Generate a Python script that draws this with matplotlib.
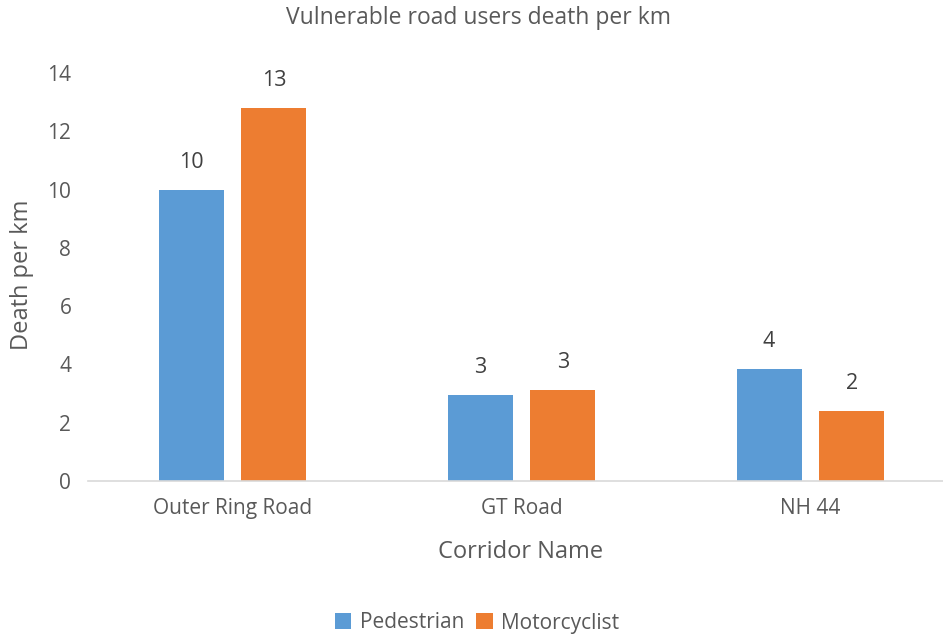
import matplotlib.pyplot as plt
import numpy as np

# data
corridors = ['Outer Ring Road', 'GT Road', 'NH 44']
pedestrian = [10.0, 2.95, 3.85]
motorcyclist = [12.8, 3.12, 2.4]
series_names = ['Pedestrian', 'Motorcyclist']

plt.rcParams['font.family'] = ['Open Sans', 'DejaVu Sans']
grey = '#595959'

fig = plt.figure(figsize=(9.43, 6.38), dpi=100)
ax = fig.add_axes([88 / 943, 157 / 638, 867 / 943, 408 / 638])

x = np.arange(len(corridors))
w = 0.225
off = 0.1435
b1 = ax.bar(x - off, pedestrian, w, color='#5B9BD5', label=series_names[0])
b2 = ax.bar(x + off, motorcyclist, w, color='#ED7D31', label=series_names[1])

for bars in (b1, b2):
    ax.bar_label(bars, labels=[f'{v:.0f}' for v in bars.datavalues],
                 padding=12, fontsize=15.5, color='#404040')

ax.set_xlim(-0.5, 2.5)
ax.set_ylim(0, 14)
ax.set_yticks(range(0, 15, 2))
ax.set_xticks(x)
ax.set_xticklabels(corridors)
ax.tick_params(length=0, labelsize=15, colors=grey)
ax.tick_params(axis='y', pad=12)
ax.tick_params(axis='x', pad=12)
for s in ['top', 'right', 'left']:
    ax.spines[s].set_visible(False)
ax.spines['bottom'].set_color('#D9D9D9')
ax.spines['bottom'].set_linewidth(1.2)

fig.text(478 / 943, 1 - 18 / 638, 'Vulnerable road users death per km',
         ha='center', va='center', fontsize=16.5, color=grey)
fig.text(22 / 943, 1 - 275 / 638, 'Death per km', rotation=90,
         ha='center', va='center', fontsize=17, color=grey)
fig.text(521 / 943, 1 - 552 / 638, 'Corridor Name',
         ha='center', va='center', fontsize=17, color=grey)

fig.legend(loc='center', bbox_to_anchor=(477 / 943, 1 - 623 / 638), ncol=2,
           frameon=False, fontsize=15, labelcolor=grey, handlelength=0.8,
           handleheight=0.8, handletextpad=0.4, columnspacing=0.6)

fig.savefig('out.png', dpi=100)
